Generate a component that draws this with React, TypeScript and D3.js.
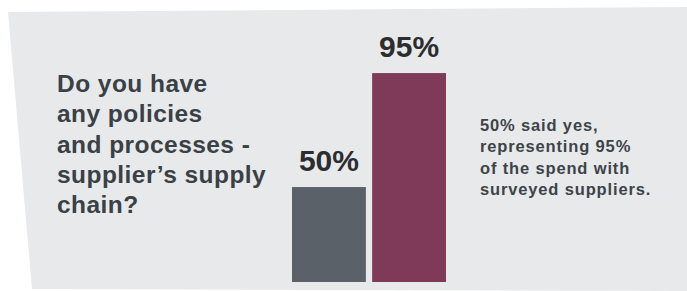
import React, { useEffect, useRef } from 'react';
import * as d3 from 'd3';

const categories = ['Suppliers', 'Spend'];
const values = [50, 95];
const valueLabels = ['50%', '95%'];
const barColors = ['#5b6168', '#7f3a5a'];
const questionLines = ['Do you have', 'any policies', 'and processes -', 'supplier\u2019s supply', 'chain?'];
const noteLines = ['50% said yes,', 'representing 95%', 'of the spend with', 'surveyed suppliers.'];

const W = 687;
const H = 291;

const App = () => {
    const svgRef = useRef(null);

    useEffect(() => {
        document.body.style.margin = '0';
        const svg = d3.select(svgRef.current);
        svg.selectAll('*').remove();

        // background panel, slightly skewed on the left
        svg.append('polygon')
            .attr('points', '8,12 687,7 687,291 32,289')
            .attr('fill', '#e8e9eb');

        const baseline = 282;
        const x = d3.scaleBand().domain(categories).range([292, 446]).paddingInner(0.078);
        const y = d3.scaleLinear().domain([0, 100]).range([313.7, 60.4]);

        const g = svg.append('g');
        g.selectAll('rect')
            .data(values)
            .join('rect')
            .attr('x', (d, i) => x(categories[i]))
            .attr('width', x.bandwidth())
            .attr('y', d => y(d))
            .attr('height', d => baseline - y(d))
            .attr('fill', (d, i) => barColors[i]);

        g.selectAll('text.val')
            .data(values)
            .join('text')
            .attr('class', 'val')
            .attr('x', (d, i) => x(categories[i]) + x.bandwidth() / 2)
            .attr('y', d => y(d) - 16)
            .attr('text-anchor', 'middle')
            .attr('font-family', 'Liberation Sans, Arial, sans-serif')
            .attr('font-weight', 'bold')
            .attr('font-size', 30)
            .attr('fill', '#2b2d2f')
            .text((d, i) => valueLabels[i]);

        // question
        svg.append('text')
            .attr('font-family', 'Liberation Sans, Arial, sans-serif')
            .attr('font-weight', 'bold')
            .attr('font-size', 24.5)
            .attr('letter-spacing', 0.45)
            .attr('fill', '#3a4146')
            .selectAll('tspan')
            .data(questionLines)
            .join('tspan')
            .attr('x', 57)
            .attr('y', (d, i) => 92 + i * 30.3)
            .text(d => d);

        // note
        svg.append('text')
            .attr('font-family', 'Liberation Sans, Arial, sans-serif')
            .attr('font-weight', 'bold')
            .attr('font-size', 16.5)
            .attr('letter-spacing', 0.85)
            .attr('fill', '#3d4449')
            .selectAll('tspan')
            .data(noteLines)
            .join('tspan')
            .attr('x', 480)
            .attr('y', (d, i) => 131 + i * 21.3)
            .text(d => d);
    }, []);

    return (
        <svg ref={svgRef} width={W} height={H} style={{ display: 'block', background: '#ffffff' }}></svg>
    );
};

export default App;
